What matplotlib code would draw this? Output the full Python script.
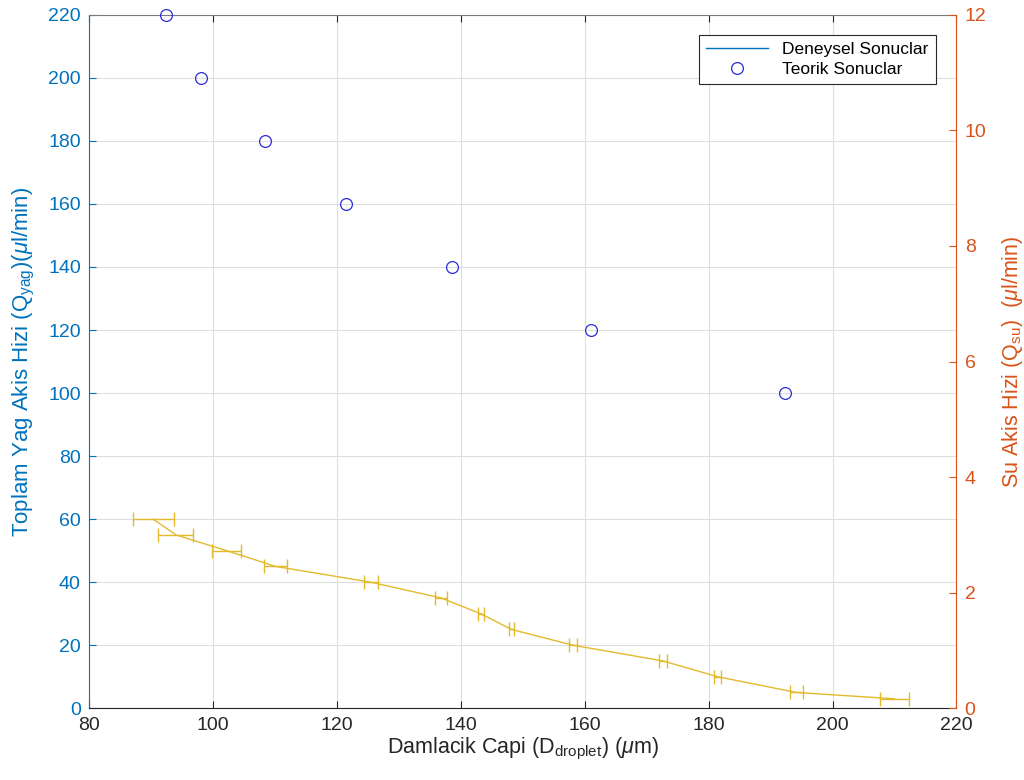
import matplotlib
matplotlib.use("Agg")
import matplotlib.pyplot as plt

plt.rcParams['font.family'] = ['Liberation Sans', 'DejaVu Sans']
plt.rcParams['mathtext.fontset'] = 'custom'
plt.rcParams['mathtext.rm'] = 'Liberation Sans'
plt.rcParams['mathtext.it'] = 'Liberation Sans:italic'

# measured droplet diameters (um) with spread, oil flow rate (ul/min)
exp_diam = [90.35, 94.0, 102.2, 110.1, 125.45, 136.8, 143.2, 148.2, 158.1, 172.65, 181.45, 194.2, 210.0]
exp_err = [3.3, 2.85, 2.3, 1.9, 1.15, 0.9, 0.5, 0.4, 0.6, 0.7, 0.6, 1.1, 2.3]
exp_flow = [60, 55, 50, 45, 40, 35, 30, 25, 20, 15, 10, 5, 3]

# theoretical results
theo_diam = [92.4, 98.1, 108.4, 121.45, 138.5, 161.0, 192.4]
theo_flow = [220, 200, 180, 160, 140, 120, 100]

blue = '#0072BD'
orange = '#D95319'
yellow = '#E3BA2C'
circ = '#2b2bd9'
dark = '#262626'

fig = plt.figure(figsize=(10.24, 7.80), dpi=100)
ax = fig.add_axes([0.087, 0.092, 0.847, 0.889])

ax.errorbar(exp_diam, exp_flow, xerr=exp_err, color=yellow, lw=1.0,
            capsize=5, capthick=1.0, elinewidth=1.0, zorder=3)
ax.plot(theo_diam, theo_flow, 'o', mfc='none', mec=circ, ms=8.5,
        mew=0.9, clip_on=False, zorder=4)

ax.set_xlim(80, 220)
ax.set_ylim(0, 220)
ax.set_xticks(range(80, 221, 20))
ax.set_yticks(range(0, 221, 20))
ax.grid(True, color='#dedede', lw=0.8)
ax.set_axisbelow(True)

ax.tick_params(axis='x', direction='in', colors=dark, labelsize=14, length=5,
               top=True, pad=6)
ax.tick_params(axis='y', direction='in', colors=blue, labelsize=14, length=5, pad=6)
ax.spines['left'].set_color(blue)
ax.spines['bottom'].set_color(dark)
ax.spines['top'].set_color('#7a7a7a')
ax.spines['right'].set_visible(False)

ax.set_xlabel(r'Damlacik Capi (D$_{\mathrm{droplet}}$) ($\mu$m)', fontsize=15.5,
              color=dark, labelpad=2)
ax.set_ylabel(r'Toplam Yag Akis Hizi (Q$_{\mathrm{yag}}$)($\mu$l/min)', fontsize=16,
              color=blue, labelpad=8)

ax2 = ax.twinx()
ax2.set_ylim(0, 12)
ax2.set_yticks(range(0, 13, 2))
ax2.tick_params(axis='y', direction='in', colors=orange, labelsize=14, length=5, pad=6)
ax2.spines['right'].set_color(orange)
ax2.spines['left'].set_visible(False)
ax2.spines['top'].set_visible(False)
ax2.spines['bottom'].set_visible(False)
ax2.set_ylabel(r'Su Akis Hizi (Q$_{\mathrm{su}}$)  ($\mu$l/min)', fontsize=15.5,
               color=orange, labelpad=10)

legend_handles = [
    plt.Line2D([0], [0], color=blue, lw=1.0, label='Deneysel Sonuclar'),
    plt.Line2D([0], [0], marker='o', ls='none', mfc='none', mec=circ, ms=8.5,
               mew=0.9, label='Teorik Sonuclar'),
]
leg = ax2.legend(handles=legend_handles, loc='upper right', bbox_to_anchor=(0.986, 0.984),
                 fontsize=12.5, frameon=True, fancybox=False, edgecolor=dark,
                 framealpha=1, borderpad=0.4, handlelength=3.6, labelspacing=0.3)
leg.get_frame().set_linewidth(0.8)

fig.savefig('out.png', dpi=100)
